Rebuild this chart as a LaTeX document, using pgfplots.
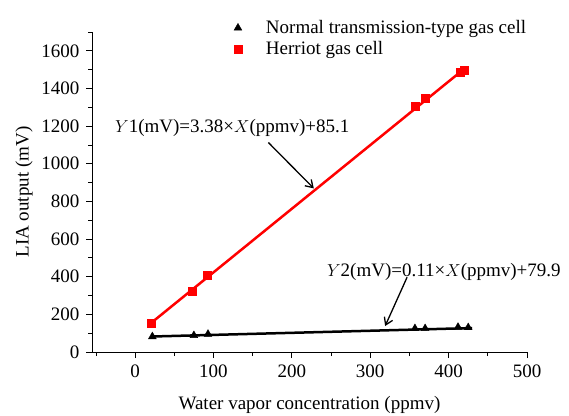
\documentclass[border=0pt]{standalone}
\usepackage{pgfplots}
\pgfplotsset{compat=1.18}
\usetikzlibrary{arrows.meta}
\usepackage{fontspec}
\setmainfont{Liberation Serif}
\begin{document}
\fontsize{19}{22}\selectfont
\begin{tikzpicture}[x=1pt,y=1pt]
\begin{axis}[
  at={(92pt,63pt)}, anchor=south west, scale only axis,
  width=435pt, height=320pt,
  xmin=-55, xmax=500, ymin=0, ymax=1700,
  axis x line=bottom, axis y line=left,
  axis line style={-, black, line width=0.8pt},
  xtick={0,100,...,500}, ytick={0,200,...,1600},
  minor xtick={-50,50,150,250,350,450},
  minor ytick={100,300,...,1700},
  tick align=outside,
  major tick length=6pt, minor tick length=4pt,
  every tick/.style={black, line width=0.8pt},
  /pgf/number format/assume math mode=true,
  /pgf/number format/1000 sep={},
  tick label style={font=\fontsize{19}{22}\selectfont},
  label style={font=\fontsize{19}{22}\selectfont},
  xlabel={Water vapor concentration (ppmv)},
  ylabel={LIA output (mV)},
  xlabel style={yshift=-6pt},
  ylabel style={yshift=-4pt},
  legend style={draw=none, fill=none, at={(0.319,1.051)}, anchor=north west,
    font=\fontsize{19}{22}\selectfont, row sep=1pt, column sep=22pt},
  legend cell align=left,
  clip=false,
]
\addplot[only marks, mark=triangle*, mark size=4.5pt, black] coordinates {
 (22,82) (75,88) (93,95) (357,125) (370,125) (412,132) (425,130)};
\addlegendentry{Normal transmission-type gas cell}
\addplot[only marks, mark=square*, mark size=4pt, red] coordinates {
 (20,153) (73,322) (92,410) (357,1305) (370,1350) (415,1488) (420,1495)};
\addlegendentry{Herriot gas cell}
\addplot[red, line width=2.5pt, forget plot] coordinates {(20,152.7) (420,1504.7)};
\addplot[black, line width=2.5pt, forget plot] coordinates {(20,82.1) (430,127.2)};
\node[font=\fontsize{19}{22}\selectfont] at (axis cs:124,1192) {$Y$1(mV)=3.38×$X$(ppmv)+85.1};
\draw[-{Straight Barb[length=7pt,width=9pt]}, line width=1.3pt] (axis cs:170,1113) -- (axis cs:228,869);
\node[font=\fontsize{19}{22}\selectfont] at (axis cs:394,424) {$Y$2(mV)=0.11×$X$(ppmv)+79.9};
\draw[-{Straight Barb[length=7pt,width=9pt]}, line width=1.3pt] (axis cs:347,397) -- (axis cs:319,138);
\end{axis}
\pgfresetboundingbox
\path (0,0) rectangle (569pt,415pt);
\end{tikzpicture}
\end{document}
